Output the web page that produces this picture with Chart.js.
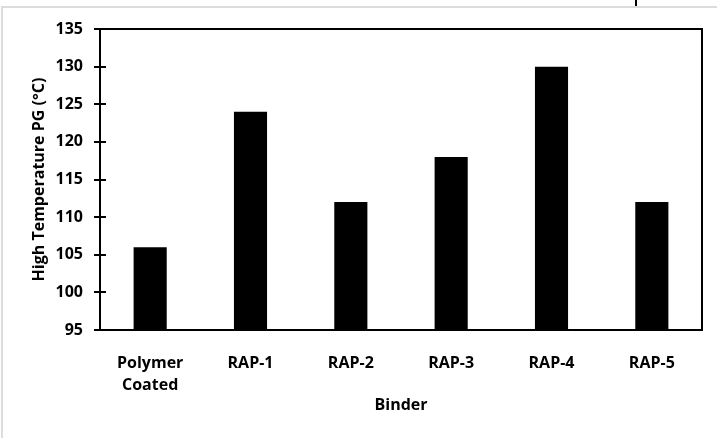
<!DOCTYPE html>
<html>
<head>
<meta charset="utf-8">
<script src="https://cdn.jsdelivr.net/npm/chart.js@4.4.1/dist/chart.umd.min.js"></script>
<style>
  html, body { margin: 0; padding: 0; background: #fff; }
  #wrap { position: relative; width: 717px; height: 438px; overflow: hidden; }
  #frame { position: absolute; left: 1px; top: 6px; right: 0; bottom: -5px;
           border-top: 2px solid #dcdcdc; border-left: 2px solid #dcdcdc; }
  #mark { position: absolute; left: 635px; top: 0; width: 2px; height: 6px; background: #000; }
  canvas { position: absolute; left: 0; top: 0; }
</style>
</head>
<body>
<div id="wrap">
  <div id="frame"></div>
  <div id="mark"></div>
  <canvas id="chart" width="717" height="438"></canvas>
</div>
<script>
// chart data
var binders = [["Polymer", "Coated"], "RAP-1", "RAP-2", "RAP-3", "RAP-4", "RAP-5"];
var highTempPG = [106, 124, 112, 118, 130, 112];
var yMin = 95, yMax = 135, yStep = 5;

var font = { family: "'Open Sans', sans-serif", size: 16, weight: "bold" };

// box round the plot and the inner half of the y ticks
var plotBox = {
  id: "plotBox",
  afterDraw: function(chart) {
    var c = chart.ctx, a = chart.chartArea, y = chart.scales.y;
    c.save();
    c.strokeStyle = "#000";
    c.lineWidth = 2;
    c.beginPath();
    c.moveTo(a.left, a.top); c.lineTo(a.right, a.top); c.lineTo(a.right, a.bottom);
    y.ticks.forEach(function(t) {
      var py = Math.round(y.getPixelForValue(t.value));
      c.moveTo(a.left, py); c.lineTo(a.left + 6, py);
    });
    c.stroke();
    c.restore();
  }
};

var ctx = document.getElementById("chart").getContext("2d");
var myChart = new Chart(ctx, {
  type: "bar",
  data: {
    labels: binders,
    datasets: [{
      label: "High Temperature PG",
      data: highTempPG,
      backgroundColor: "#000",
      borderWidth: 0,
      barPercentage: 1,
      categoryPercentage: 0.33
    }]
  },
  options: {
    responsive: false,
    animation: false,
    layout: { padding: { top: 29, right: 15, left: 0, bottom: 0 } },
    plugins: { legend: { display: false }, tooltip: { enabled: false } },
    scales: {
      x: {
        grid: { display: false },
        border: { color: "#000", width: 2 },
        ticks: { color: "#000", font: { family: font.family, size: 16, weight: "bold", lineHeight: 1.375 },
                 padding: 14, maxRotation: 0 },
        title: { display: true, text: "Binder", color: "#000", font: font, padding: { top: 0, bottom: 23 } },
        afterFit: function(s) { s.height = 108; }
      },
      y: {
        min: yMin, max: yMax,
        grid: { drawOnChartArea: false, drawTicks: true, tickLength: 6, color: "#000", lineWidth: 2 },
        border: { color: "#000", width: 2 },
        ticks: { stepSize: yStep, color: "#000", font: font, padding: 11 },
        title: { display: true, text: "High Temperature PG (°C)", color: "#000", font: font,
                 padding: { top: 30, bottom: 0 } },
        afterFit: function(s) { s.width = 100; }
      }
    }
  },
  plugins: [plotBox]
});
</script>
</body>
</html>
